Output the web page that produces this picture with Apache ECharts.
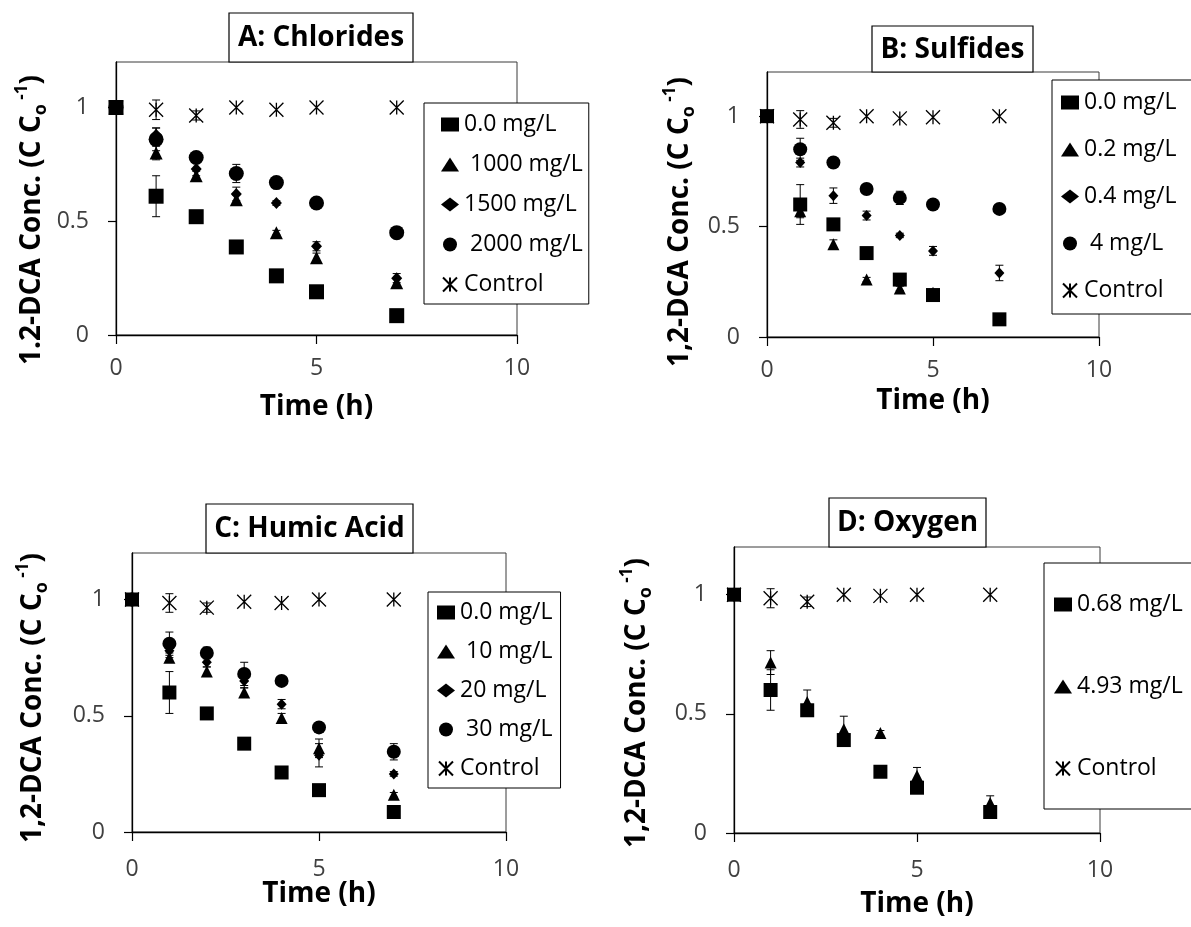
<!DOCTYPE html>
<html>
<head>
<meta charset="utf-8">
<title>1,2-DCA degradation</title>
<script src="https://cdn.jsdelivr.net/npm/echarts@6/dist/echarts.min.js"></script>
<style>
  html, body { margin: 0; padding: 0; background: #fff; }
  #chart { width: 1191px; height: 927px; }
</style>
</head>
<body>
<div id="chart"></div>
<script>
// ---- data -------------------------------------------------------------
const times = [0, 1, 2, 3, 4, 5, 7];
const xTicks = [0, 5, 10];
const yTicks = [0, 0.5, 1];

// A: Chlorides
const chlorideNames = ['0.0 mg/L', ' 1000 mg/L', '1500 mg/L', ' 2000 mg/L', 'Control'];
const chloride0 = [1, 0.61, 0.52, 0.387, 0.26, 0.19, 0.085];
const chloride0Err = [0, 0.09, 0.01, 0.01, 0.01, 0.01, 0.01];
const chloride1000 = [1, 0.80, 0.70, 0.595, 0.45, 0.34, 0.23];
const chloride1000Err = [0, 0.03, 0.02, 0.02, 0.01, 0.02, 0.02];
const chloride1500 = [1, 0.88, 0.73, 0.62, 0.58, 0.39, 0.25];
const chloride1500Err = [0, 0.03, 0.03, 0.03, 0.01, 0.02, 0.02];
const chloride2000 = [1, 0.86, 0.78, 0.71, 0.67, 0.58, 0.45];
const chloride2000Err = [0, 0.05, 0.02, 0.04, 0.01, 0.01, 0.01];
const chlorideCtl = [1, 0.99, 0.965, 1.0, 0.99, 1.0, 1.0];
const chlorideCtlErr = [0, 0.043, 0.02, 0, 0, 0, 0];

// B: Sulfides
const sulfideNames = ['0.0 mg/L', '0.2 mg/L', '0.4 mg/L', ' 4 mg/L', 'Control'];
const sulfide0 = [1, 0.60, 0.51, 0.38, 0.26, 0.19, 0.08];
const sulfide0Err = [0, 0.09, 0.01, 0.01, 0.02, 0.01, 0.01];
const sulfide02 = [1, 0.57, 0.42, 0.26, 0.22, 0.20, 0.08];
const sulfide02Err = [0, 0.03, 0.02, 0.01, 0.01, 0.01, 0.01];
const sulfide04 = [1, 0.79, 0.64, 0.55, 0.46, 0.39, 0.29];
const sulfide04Err = [0, 0.02, 0.035, 0.02, 0.01, 0.02, 0.035];
const sulfide4 = [1, 0.85, 0.79, 0.67, 0.63, 0.60, 0.58];
const sulfide4Err = [0, 0.05, 0.01, 0.01, 0.03, 0.01, 0.01];
const sulfideCtl = [1, 0.985, 0.97, 1.0, 0.99, 0.995, 1.0];
const sulfideCtlErr = [0, 0.04, 0.02, 0, 0, 0, 0];

// C: Humic Acid
const humicNames = ['0.0 mg/L', ' 10 mg/L', '20 mg/L', ' 30 mg/L', 'Control'];
const humic0 = [1, 0.60, 0.51, 0.38, 0.256, 0.18, 0.086];
const humic0Err = [0, 0.09, 0.01, 0.01, 0.01, 0.01, 0.01];
const humic10 = [1, 0.75, 0.69, 0.60, 0.49, 0.36, 0.16];
const humic10Err = [0, 0.02, 0.02, 0.02, 0.02, 0.04, 0.01];
const humic20 = [1, 0.78, 0.73, 0.65, 0.55, 0.33, 0.25];
const humic20Err = [0, 0.03, 0.02, 0.03, 0.02, 0.05, 0.01];
const humic30 = [1, 0.81, 0.77, 0.68, 0.65, 0.45, 0.345];
const humic30Err = [0, 0.05, 0.025, 0.05, 0.01, 0.01, 0.035];
const humicCtl = [1, 0.985, 0.965, 0.99, 0.985, 1.0, 1.0];
const humicCtlErr = [0, 0.04, 0.02, 0, 0, 0, 0];

// D: Oxygen
const oxygenNames = ['0.68 mg/L', '4.93 mg/L', 'Control'];
const oxygenLow = [1, 0.60, 0.515, 0.39, 0.257, 0.19, 0.088];
const oxygenLowErr = [0, 0.085, 0.01, 0.01, 0.01, 0.01, 0.01];
const oxygenHigh = [1, 0.715, 0.55, 0.435, 0.42, 0.24, 0.126];
const oxygenHighErr = [0, 0.05, 0.05, 0.055, 0.01, 0.035, 0.03];
const oxygenCtl = [1, 0.985, 0.97, 1.0, 0.995, 1.0, 1.0];
const oxygenCtlErr = [0, 0.04, 0.02, 0, 0, 0, 0];

// ---- styling ----------------------------------------------------------
const FONT = '"Open Sans", "Noto Sans", sans-serif';
const STAR = 'path://M0,0L10,10M10,0L0,10M5,0L5,10';
const TICK_FONT = 23;
const LEGEND_FONT = 23;
const BOLD_FONT = 28;

function mark(shape, size) {
  return { shape, size };
}

const panels = [
  {
    title: 'A: Chlorides', yLead: '1.2-DCA',
    grid: { left: 116, top: 62, width: 401, height: 273 },
    titleBox: { x: 229, y: 13, w: 184, h: 49 },
    yTitle: { x: 32, y: 220 },
    xNameGap: 58, xLabelMargin: 22,
    legend: { left: 424, top: 103, gap: 17, padding: [10, 6, 8, 17] },
    series: [
      { name: chlorideNames[0], values: chloride0, err: chloride0Err, ...mark('rect', 15) },
      { name: chlorideNames[1], values: chloride1000, err: chloride1000Err, ...mark('triangle', 13) },
      { name: chlorideNames[2], values: chloride1500, err: chloride1500Err, ...mark('diamond', [11, 12]) },
      { name: chlorideNames[3], values: chloride2000, err: chloride2000Err, ...mark('circle', 15) },
      { name: chlorideNames[4], values: chlorideCtl, err: chlorideCtlErr, ...mark(STAR, 14) }
    ]
  },
  {
    title: 'B: Sulfides', yLead: '1,2-DCA',
    grid: { left: 767, top: 72, width: 332, height: 265 },
    titleBox: { x: 872, y: 26, w: 161, h: 46 },
    yTitle: { x: 680, y: 222 },
    xNameGap: 50, xLabelMargin: 22,
    legend: { left: 1052, top: 80, gap: 24, padding: [11, 20, 12, 9] },
    series: [
      { name: sulfideNames[0], values: sulfide0, err: sulfide0Err, ...mark('rect', 14) },
      { name: sulfideNames[1], values: sulfide02, err: sulfide02Err, ...mark('triangle', 12) },
      { name: sulfideNames[2], values: sulfide04, err: sulfide04Err, ...mark('diamond', [10, 11]) },
      { name: sulfideNames[3], values: sulfide4, err: sulfide4Err, ...mark('circle', 14) },
      { name: sulfideNames[4], values: sulfideCtl, err: sulfideCtlErr, ...mark(STAR, 14) }
    ]
  },
  {
    title: 'C: Humic Acid', yLead: '1,2-DCA',
    grid: { left: 132, top: 553, width: 374, height: 279 },
    titleBox: { x: 206, y: 504, w: 207, h: 49 },
    yTitle: { x: 33, y: 698 },
    xNameGap: 48, xLabelMargin: 26,
    legend: { left: 428, top: 592, gap: 16, padding: [9, 8, 8, 9] },
    series: [
      { name: humicNames[0], values: humic0, err: humic0Err, ...mark('rect', 14) },
      { name: humicNames[1], values: humic10, err: humic10Err, ...mark('triangle', 12) },
      { name: humicNames[2], values: humic20, err: humic20Err, ...mark('diamond', [10, 11]) },
      { name: humicNames[3], values: humic30, err: humic30Err, ...mark('circle', 14) },
      { name: humicNames[4], values: humicCtl, err: humicCtlErr, ...mark(STAR, 14) }
    ]
  },
  {
    title: 'D: Oxygen', yLead: '1,2-DCA',
    grid: { left: 734, top: 547, width: 366, height: 286 },
    titleBox: { x: 829, y: 498, w: 157, h: 49 },
    yTitle: { x: 637, y: 703 },
    xNameGap: 57, xLabelMargin: 26,
    legend: { left: 1044, top: 563, gap: 59, padding: [30, 20, 29, 10] },
    series: [
      { name: oxygenNames[0], values: oxygenLow, err: oxygenLowErr, ...mark('rect', 14) },
      { name: oxygenNames[1], values: oxygenHigh, err: oxygenHighErr, ...mark('triangle', 12) },
      { name: oxygenNames[2], values: oxygenCtl, err: oxygenCtlErr, ...mark(STAR, 14) }
    ]
  }
];

// ---- option assembly --------------------------------------------------
function errorBar(params, api) {
  const x = api.value(0);
  const lo = api.coord([x, api.value(1)]);
  const hi = api.coord([x, api.value(2)]);
  const cap = 4;
  const style = { stroke: '#000', lineWidth: 1 };
  return {
    type: 'group',
    children: [
      { type: 'line', shape: { x1: lo[0], y1: lo[1], x2: hi[0], y2: hi[1] }, style },
      { type: 'line', shape: { x1: lo[0] - cap, y1: lo[1], x2: lo[0] + cap, y2: lo[1] }, style },
      { type: 'line', shape: { x1: hi[0] - cap, y1: hi[1], x2: hi[0] + cap, y2: hi[1] }, style }
    ]
  };
}

const grid = [], xAxis = [], yAxis = [], series = [], legend = [], graphic = [];

panels.forEach((p, i) => {
  grid.push({
    left: p.grid.left, top: p.grid.top, width: p.grid.width, height: p.grid.height,
    show: true, borderColor: '#3a3a3a', borderWidth: 1, backgroundColor: 'transparent',
    containLabel: false, outerBoundsMode: 'none'
  });

  xAxis.push({
    gridIndex: i, type: 'value', min: 0, max: 10, interval: 5,
    name: 'Time (h)', nameLocation: 'middle', nameGap: p.xNameGap, nameMoveOverlap: false,
    nameTextStyle: { fontFamily: FONT, fontSize: BOLD_FONT, fontWeight: 'bold', color: '#000' },
    axisLine: { show: true, onZero: false, lineStyle: { color: '#000', width: 1.3 } },
    axisTick: { show: true, customValues: xTicks, length: 9, lineStyle: { color: '#000', width: 1.2 } },
    axisLabel: { customValues: xTicks, margin: p.xLabelMargin, fontFamily: FONT, fontSize: TICK_FONT, color: '#404040' },
    splitLine: { show: false }
  });

  yAxis.push({
    gridIndex: i, type: 'value', min: 0, max: 1.2,
    axisLine: { show: true, onZero: false, lineStyle: { color: '#000', width: 1.3 } },
    axisTick: { show: true, customValues: yTicks, length: 8, lineStyle: { color: '#000', width: 1.2 } },
    axisLabel: { customValues: yTicks, margin: 27, fontFamily: FONT, fontSize: TICK_FONT, color: '#404040' },
    splitLine: { show: false }
  });

  const bars = [];
  p.series.forEach(s => {
    times.forEach((t, j) => {
      if (s.err[j] > 0) bars.push([t, s.values[j] - s.err[j], s.values[j] + s.err[j]]);
    });
    const isStar = s.shape === STAR;
    series.push({
      type: 'scatter', name: s.name, xAxisIndex: i, yAxisIndex: i,
      data: times.map((t, j) => [t, s.values[j]]),
      symbol: s.shape, symbolSize: s.size, clip: false, z: 3,
      itemStyle: isStar
        ? { color: 'rgba(0,0,0,0)', borderColor: '#000', borderWidth: 1.3, opacity: 1 }
        : { color: '#000', borderWidth: 0, opacity: 1 },
      emphasis: { disabled: true }
    });
  });
  series.push({
    type: 'custom', xAxisIndex: i, yAxisIndex: i, data: bars,
    encode: { x: 0, y: [1, 2] }, renderItem: errorBar, z: 2, silent: true, clip: false
  });

  legend.push({
    orient: 'vertical', left: p.legend.left, top: p.legend.top,
    data: p.series.map(s => s.name), itemGap: p.legend.gap, padding: p.legend.padding,
    borderColor: '#000', borderWidth: 1, backgroundColor: '#fff',
    itemWidth: 18, itemHeight: 14, symbolKeepAspect: true, selectedMode: false,
    textStyle: { fontFamily: FONT, fontSize: LEGEND_FONT, color: '#000' }
  });

  // boxed panel title
  graphic.push({
    type: 'rect', z: 10,
    shape: { x: p.titleBox.x, y: p.titleBox.y, width: p.titleBox.w, height: p.titleBox.h },
    style: { fill: '#fff', stroke: '#000', lineWidth: 1.2 }
  });
  graphic.push({
    type: 'text', z: 11,
    x: p.titleBox.x + p.titleBox.w / 2, y: p.titleBox.y + p.titleBox.h / 2 + 1,
    style: { text: p.title, fill: '#000', font: 'bold ' + BOLD_FONT + 'px ' + FONT, align: 'center', verticalAlign: 'middle' }
  });

  // rotated y-axis title with subscript / superscript
  graphic.push({
    type: 'text', z: 11, x: p.yTitle.x, y: p.yTitle.y, rotation: Math.PI / 2,
    style: {
      text: '{m|' + p.yLead + ' Conc. (C C}{sub|o}{sup| -1}{m|)}',
      align: 'center', verticalAlign: 'middle',
      rich: {
        m: { fontFamily: FONT, fontSize: BOLD_FONT, fontWeight: 'bold', fill: '#000', lineHeight: 36 },
        sub: { fontFamily: FONT, fontSize: 18, fontWeight: 'bold', fill: '#000', lineHeight: 18, verticalAlign: 'bottom' },
        sup: { fontFamily: FONT, fontSize: 17, fontWeight: 'bold', fill: '#000', lineHeight: 17, verticalAlign: 'top' }
      }
    }
  });
});

const chart = echarts.init(document.getElementById('chart'), null, { renderer: 'canvas' });
chart.setOption({
  animation: false,
  backgroundColor: '#fff',
  grid, xAxis, yAxis, series, legend, graphic
});
</script>
</body>
</html>
